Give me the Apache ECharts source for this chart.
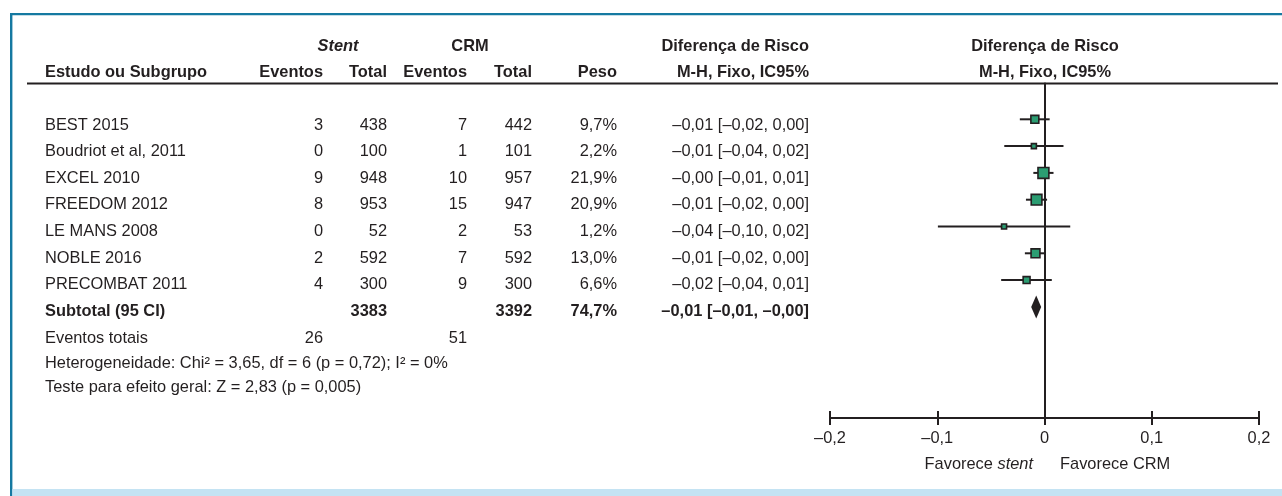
<!DOCTYPE html>
<html>
<head>
<meta charset="utf-8">
<title>Diferença de Risco – Stent vs CRM</title>
<script src="https://cdn.jsdelivr.net/npm/echarts@6/dist/echarts.min.js"></script>
<style>
  html, body { margin: 0; padding: 0; background: #ffffff; }
  #chart { width: 1282px; height: 496px; }
</style>
</head>
<body>
<div id="chart"></div>
<script>
// Study rows
const studies = ['BEST 2015', 'Boudriot et al, 2011', 'EXCEL 2010', 'FREEDOM 2012', 'LE MANS 2008', 'NOBLE 2016', 'PRECOMBAT 2011'];
const stentEvents = [3, 0, 9, 8, 0, 2, 4];
const stentTotal = [438, 100, 948, 953, 52, 592, 300];
const crmEvents = [7, 1, 10, 15, 2, 7, 9];
const crmTotal = [442, 101, 957, 947, 53, 592, 300];
const weights = [9.7, 2.2, 21.9, 20.9, 1.2, 13.0, 6.6];
const riskDiff = [-0.0090, -0.0099, -0.0010, -0.0074, -0.0377, -0.0084, -0.0167];
const ciLow = [-0.0230, -0.0375, -0.0104, -0.0173, -0.0994, -0.0183, -0.0404];
const ciHigh = [0.0048, 0.0177, 0.0084, 0.0024, 0.0240, 0.0014, 0.0068];

// Pooled (fixed effect) result
const subtotalLabel = 'Subtotal (95 CI)';
const subtotalStentTotal = 3383;
const subtotalCrmTotal = 3392;
const subtotalWeight = 74.7;
const subtotalDiff = [-0.0077];
const subtotalLow = [-0.0124];
const subtotalHigh = [-0.0031];
const totalEventsStent = 26;
const totalEventsCrm = 51;

const heterogeneityText = 'Heterogeneidade: Chi² = 3,65, df = 6 (p = 0,72); I² = 0%';
const overallTestText = 'Teste para efeito geral: Z = 2,83 (p = 0,005)';

// Axis ticks
const axisTicks = [-0.2, -0.1, 0, 0.1, 0.2];

const INK = '#231f20';
const FONT = '"Liberation Sans", Arial, Helvetica, sans-serif';
const FS = 16.4;

function fmtNum(v) {
  return v.toFixed(2).replace('.', ',').replace('-', '\u2013');
}
function fmtCI(md, lo, hi) {
  return fmtNum(md) + ' [' + fmtNum(lo) + ', ' + fmtNum(hi) + ']';
}
function fmtPct(w) {
  return w.toFixed(1).replace('.', ',') + '%';
}

// column anchors (x) and row positions (y) of the table
const col = { name: 45, stEv: 323, stTot: 387, crmEv: 467, crmTot: 532, peso: 617, ci: 809 };
const rowY0 = 125, rowStep = 26.6;

function txt(x, y, text, opts) {
  opts = opts || {};
  return {
    type: 'text', x: x, y: y, silent: true,
    style: {
      text: text,
      fill: INK,
      font: (opts.italic ? 'italic ' : '') + (opts.bold ? 'bold ' : '') + FS + 'px ' + FONT,
      textAlign: opts.align || 'left',
      textVerticalAlign: 'middle',
      rich: opts.rich
    }
  };
}

const graphics = [];
// frame
graphics.push({ type: 'rect', shape: { x: 10, y: 13, width: 1272, height: 2.2 }, style: { fill: '#1579a1' }, silent: true });
graphics.push({ type: 'rect', shape: { x: 10, y: 13, width: 2.4, height: 483 }, style: { fill: '#1579a1' }, silent: true });
graphics.push({ type: 'rect', shape: { x: 12.4, y: 489, width: 1270, height: 7 }, style: { fill: '#c4e3f3' }, silent: true });
// header rule
graphics.push({ type: 'line', shape: { x1: 27, y1: 83.5, x2: 1278, y2: 83.5 }, style: { stroke: INK, lineWidth: 2 }, silent: true });

// headers
graphics.push(txt(338, 46, 'Stent', { bold: true, italic: true, align: 'center' }));
graphics.push(txt(470, 46, 'CRM', { bold: true, align: 'center' }));
graphics.push(txt(col.ci, 46, 'Diferença de Risco', { bold: true, align: 'right' }));
graphics.push(txt(1045, 46, 'Diferença de Risco', { bold: true, align: 'center' }));
graphics.push(txt(col.name, 72, 'Estudo ou Subgrupo', { bold: true }));
graphics.push(txt(col.stEv, 72, 'Eventos', { bold: true, align: 'right' }));
graphics.push(txt(col.stTot, 72, 'Total', { bold: true, align: 'right' }));
graphics.push(txt(col.crmEv, 72, 'Eventos', { bold: true, align: 'right' }));
graphics.push(txt(col.crmTot, 72, 'Total', { bold: true, align: 'right' }));
graphics.push(txt(col.peso, 72, 'Peso', { bold: true, align: 'right' }));
graphics.push(txt(col.ci, 72, 'M-H, Fixo, IC95%', { bold: true, align: 'right' }));
graphics.push(txt(1045, 72, 'M-H, Fixo, IC95%', { bold: true, align: 'center' }));

// study rows
studies.forEach(function (s, i) {
  const y = rowY0 + rowStep * i;
  graphics.push(txt(col.name, y, s));
  graphics.push(txt(col.stEv, y, String(stentEvents[i]), { align: 'right' }));
  graphics.push(txt(col.stTot, y, String(stentTotal[i]), { align: 'right' }));
  graphics.push(txt(col.crmEv, y, String(crmEvents[i]), { align: 'right' }));
  graphics.push(txt(col.crmTot, y, String(crmTotal[i]), { align: 'right' }));
  graphics.push(txt(col.peso, y, fmtPct(weights[i]), { align: 'right' }));
  graphics.push(txt(col.ci, y, fmtCI(riskDiff[i], ciLow[i], ciHigh[i]), { align: 'right' }));
});

// subtotal row
const ySub = rowY0 + rowStep * studies.length;
graphics.push(txt(col.name, ySub, subtotalLabel, { bold: true }));
graphics.push(txt(col.stTot, ySub, String(subtotalStentTotal), { bold: true, align: 'right' }));
graphics.push(txt(col.crmTot, ySub, String(subtotalCrmTotal), { bold: true, align: 'right' }));
graphics.push(txt(col.peso, ySub, fmtPct(subtotalWeight), { bold: true, align: 'right' }));
graphics.push(txt(col.ci, ySub, fmtCI(subtotalDiff[0], subtotalLow[0], subtotalHigh[0]), { bold: true, align: 'right' }));

// totals and tests
graphics.push(txt(col.name, 338.5, 'Eventos totais'));
graphics.push(txt(col.stEv, 338.5, String(totalEventsStent), { align: 'right' }));
graphics.push(txt(col.crmEv, 338.5, String(totalEventsCrm), { align: 'right' }));
graphics.push(txt(col.name, 363.5, heterogeneityText));
graphics.push(txt(col.name, 387.5, overallTestText));

// axis captions
graphics.push(txt(1033, 464, 'Favorece {i|stent}', { align: 'right', rich: { i: { fontStyle: 'italic', fontSize: FS, fontFamily: FONT, fill: INK } } }));
graphics.push(txt(1060, 464, 'Favorece CRM'));

// forest rows: [row, estimate, low, high, weight]
const forestData = studies.map(function (s, i) {
  return [i, riskDiff[i], ciLow[i], ciHigh[i], weights[i]];
});
const pooledData = [[studies.length, subtotalDiff[0], subtotalLow[0], subtotalHigh[0]]];

const xAxisBase = {
  type: 'value', min: axisTicks[0], max: axisTicks[axisTicks.length - 1], interval: 0.1,
  position: 'bottom', splitLine: { show: false }
};

const chart = echarts.init(document.getElementById('chart'), null, { renderer: 'canvas' });
chart.setOption({
  animation: false,
  backgroundColor: '#ffffff',
  grid: { left: 830, right: 23, top: 83.5, bottom: 78, containLabel: false },
  xAxis: [
    Object.assign({}, xAxisBase, {
      axisLine: { show: true, onZero: false, lineStyle: { color: INK, width: 2 } },
      axisTick: { show: true, length: 7, lineStyle: { color: INK, width: 2 } },
      axisLabel: {
        show: true, margin: 12, color: INK, fontSize: FS, fontFamily: FONT,
        formatter: function (v) {
          if (Math.abs(v) < 1e-9) return '0';
          return v.toFixed(1).replace('.', ',').replace('-', '\u2013');
        }
      }
    }),
    Object.assign({}, xAxisBase, {
      axisLine: { show: false, onZero: false },
      axisTick: { show: true, inside: true, length: 7, lineStyle: { color: INK, width: 2 } },
      axisLabel: { show: false }
    })
  ],
  yAxis: {
    type: 'value', inverse: true, min: -1.336, max: 11.146,
    axisLine: { show: true, onZero: true, lineStyle: { color: INK, width: 2 } },
    axisTick: { show: false }, axisLabel: { show: false }, splitLine: { show: false }
  },
  series: [
    {
      type: 'custom', name: 'Estudos', xAxisIndex: 0,
      encode: { x: [1, 2, 3], y: 0 },
      data: forestData,
      renderItem: function (params, api) {
        const row = api.value(0);
        const c = api.coord([api.value(1), row]);
        const lo = api.coord([api.value(2), row]);
        const hi = api.coord([api.value(3), row]);
        const size = Math.max(5, 2 + 1.9 * Math.sqrt(api.value(4)));
        return {
          type: 'group',
          children: [
            { type: 'line', shape: { x1: lo[0], y1: c[1], x2: hi[0], y2: c[1] }, style: { stroke: INK, lineWidth: 2 } },
            { type: 'rect', shape: { x: c[0] - size / 2, y: c[1] - size / 2, width: size, height: size },
              style: { fill: '#2b9d72', stroke: INK, lineWidth: 1.6 } }
          ]
        };
      }
    },
    {
      type: 'custom', name: 'Subtotal', xAxisIndex: 0,
      encode: { x: [1, 2, 3], y: 0 },
      data: pooledData,
      renderItem: function (params, api) {
        const row = api.value(0);
        const c = api.coord([api.value(1), row]);
        const lo = api.coord([api.value(2), row]);
        const hi = api.coord([api.value(3), row]);
        const h = 11.5;
        return {
          type: 'polygon',
          shape: { points: [[lo[0], c[1]], [c[0], c[1] - h], [hi[0], c[1]], [c[0], c[1] + h]] },
          style: { fill: INK }
        };
      }
    }
  ],
  graphic: graphics
});
</script>
</body>
</html>
